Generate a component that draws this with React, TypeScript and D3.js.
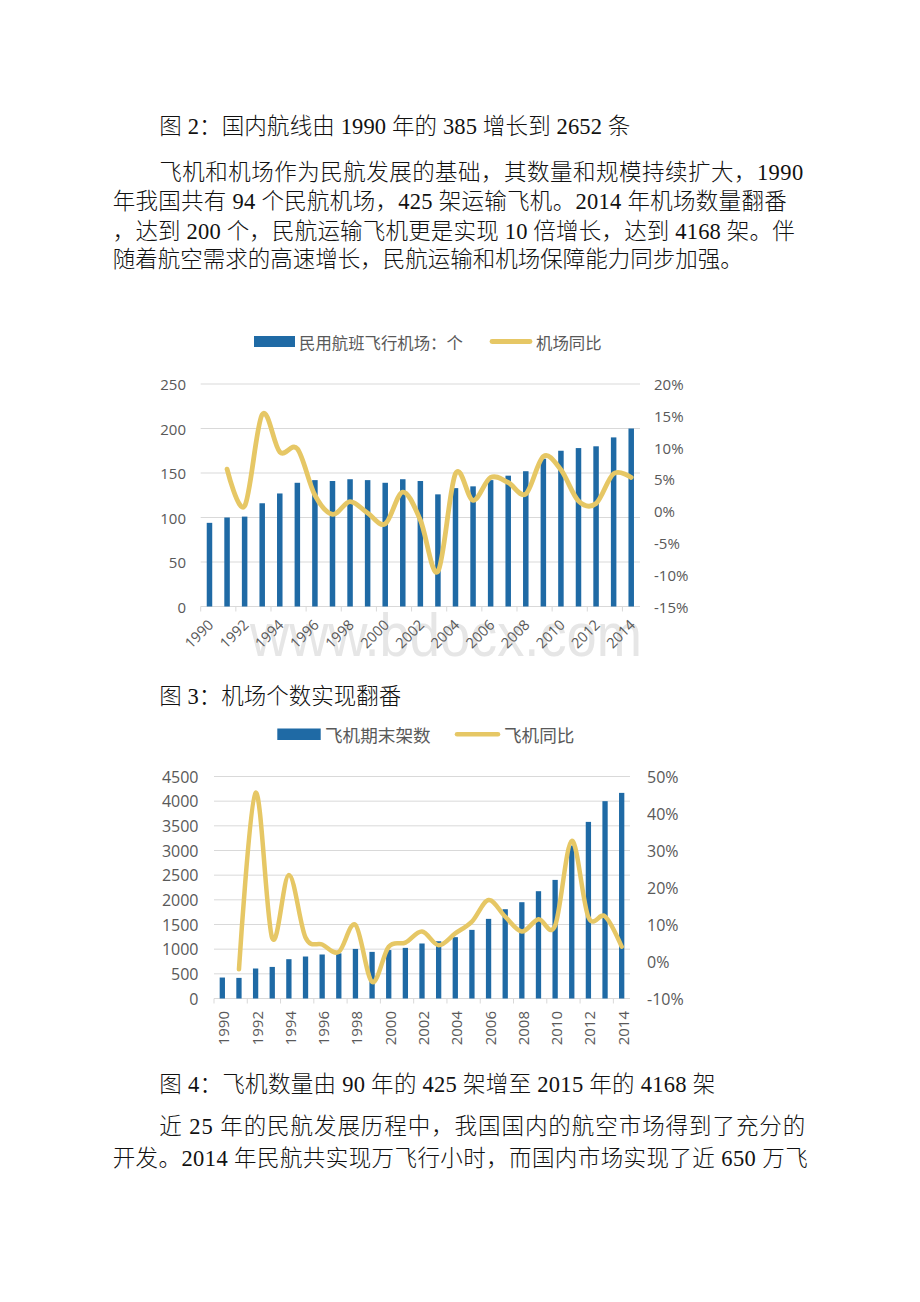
import React from 'react';
import * as d3 from 'd3';

// ---------- data ----------
const years = ['1990','1991','1992','1993','1994','1995','1996','1997','1998','1999','2000','2001','2002','2003','2004','2005','2006','2007','2008','2009','2010','2011','2012','2013','2014'];
const yearLabels = ['1990','1992','1994','1996','1998','2000','2002','2004','2006','2008','2010','2012','2014'];

// 民用航班飞行机场：个
const airportCounts = [94,100,101,116,127,139,142,141,143,142,139,143,141,126,133,135,142,147,152,166,175,178,180,190,200];
// 机场同比 (%)
const airportYoY: (number|null)[] = [null,6.6,0.8,15.2,9.3,9.8,2.5,-0.5,1.5,-0.3,-2.0,3.0,-1.4,-9.5,5.9,1.7,5.3,4.5,2.7,8.6,6.5,1.6,1.2,5.9,5.3];
const airportLeftTicks = [0,50,100,150,200,250];
const airportRightTicks = [-15,-10,-5,0,5,10,15,20];

// 飞机期末架数
const planeCounts = [425,418,608,640,797,851,892,915,1005,945,982,1026,1115,1161,1243,1391,1614,1810,1952,2175,2404,3100,3580,4000,4168];
// 飞机同比 (%)
const planeYoY: (number|null)[] = [null,-2.1,45.6,6.3,23.4,6.5,4.6,2.6,9.9,-5.5,4.0,5.1,8.1,4.4,7.6,10.8,16.6,12.1,8.1,11.4,9.7,32.6,12.0,12.2,4.0];
const planeLeftTicks = [0,500,1000,1500,2000,2500,3000,3500,4000,4500];
const planeRightTicks = [-10,0,10,20,30,40,50];

// ---------- styles ----------
const BLUE = '#1f6aa5';
const GOLD = '#e6c765';
const GRID = '#d9d9d9';
const LABEL = '#595959';
const AXIS_FONT = "'Open Sans', 'Noto Sans CJK SC', sans-serif";
const CJK_FONT = "'Noto Sans CJK SC', sans-serif";
const BODY_FONT = "'Liberation Serif', 'Noto Sans CJK SC', serif";

type ChartProps = {
  xL: number; xR: number; yT: number; yB: number;
  bars: number[]; line: (number|null)[];
  leftTicks: number[]; rightTicks: number[];
  barW: number; lineW: number; font: number;
  leftLabelX: number; rightLabelX: number;
  rotate: 'diag' | 'vert'; labelY: number;
  legend: { rectX: number; rectY: number; rectW: number; rectH: number; text1X: number; lineX0: number; lineX1: number; text2X: number; cy: number; size: number; t1: string; t2: string };
  watermark?: boolean;
};

function ComboChart(p: ChartProps) {
  const x = d3.scaleBand<string>().domain(years).range([p.xL, p.xR]).padding(0);
  const step = x.step();
  const yL = d3.scaleLinear().domain([p.leftTicks[0], p.leftTicks[p.leftTicks.length - 1]]).range([p.yB, p.yT]);
  const yR = d3.scaleLinear().domain([p.rightTicks[0], p.rightTicks[p.rightTicks.length - 1]]).range([p.yB, p.yT]);
  const cx = (y: string) => (x(y) as number) + step / 2;

  const pts = years.map((yr, i) => ({ yr, v: p.line[i] }));
  const lineGen = d3.line<{ yr: string; v: number | null }>()
    .defined(d => d.v !== null)
    .x(d => cx(d.yr))
    .y(d => yR(d.v as number))
    .curve(d3.curveCardinal.tension(0));

  const tickIdx = years.map((_, i) => i).filter(i => i % 2 === 0);
  const lg = p.legend;

  return (
    <g>
      {/* legend */}
      <rect x={lg.rectX} y={lg.rectY} width={lg.rectW} height={lg.rectH} fill={BLUE} />
      <text x={lg.text1X} y={lg.cy} dominantBaseline="central" fontFamily={CJK_FONT} fontSize={lg.size} fill={LABEL}>{lg.t1}</text>
      <line x1={lg.lineX0} x2={lg.lineX1} y1={lg.cy} y2={lg.cy} stroke={GOLD} strokeWidth={p.lineW} strokeLinecap="round" />
      <text x={lg.text2X} y={lg.cy} dominantBaseline="central" fontFamily={CJK_FONT} fontSize={lg.size} fill={LABEL}>{lg.t2}</text>

      {/* grid */}
      {p.leftTicks.map(t => (
        <line key={'g' + t} x1={p.xL} x2={p.xR} y1={yL(t)} y2={yL(t)} stroke={GRID} strokeWidth={1} />
      ))}
      {/* x axis ticks */}
      {tickIdx.map(i => (
        <line key={'t' + i} x1={p.xL + i * step} x2={p.xL + i * step} y1={p.yB} y2={p.yB + 5} stroke={GRID} strokeWidth={1} />
      ))}

      {p.watermark && (
        <text transform="translate(250,656) scale(0.875,1)" fontFamily="'Liberation Sans', sans-serif" fontSize={62} fill="#e6e6e6">www.bdocx.com</text>
      )}

      {/* left labels */}
      {p.leftTicks.map(t => (
        <text key={'l' + t} x={p.leftLabelX} y={yL(t)} textAnchor="end" dominantBaseline="central" fontFamily={AXIS_FONT} fontSize={p.font} fill={LABEL}>{t}</text>
      ))}
      {/* right labels */}
      {p.rightTicks.map(t => (
        <text key={'r' + t} x={p.rightLabelX} y={yR(t)} dominantBaseline="central" fontFamily={AXIS_FONT} fontSize={p.font} fill={LABEL}>{t + '%'}</text>
      ))}
      {/* x labels */}
      {yearLabels.map(yl => (
        p.rotate === 'diag' ? (
          <text key={'x' + yl} transform={`translate(${cx(yl) + 1},${p.labelY}) rotate(-45)`} textAnchor="end" dominantBaseline="central" fontFamily={AXIS_FONT} fontSize={p.font - 0.5} fill={LABEL}>{yl}</text>
        ) : (
          <text key={'x' + yl} transform={`translate(${cx(yl) + 1},${p.labelY}) rotate(-90)`} textAnchor="end" dominantBaseline="central" fontFamily={AXIS_FONT} fontSize={p.font - 1} fill={LABEL}>{yl}</text>
        )
      ))}

      {/* bars */}
      {years.map((yr, i) => (
        <rect key={'b' + yr} x={cx(yr) - p.barW / 2} y={yL(p.bars[i])} width={p.barW} height={p.yB - yL(p.bars[i])} fill={BLUE} />
      ))}
      {/* line */}
      <path d={lineGen(pts) || ''} fill="none" stroke={GOLD} strokeWidth={p.lineW} strokeLinejoin="round" strokeLinecap="round" />
    </g>
  );
}

const bodyLines: { t: string; x: number; y: number; len?: number }[] = [
  { t: '图 2：国内航线由 1990 年的 385 增长到 2652 条', x: 159.3, y: 133.5, len: 471 },
  { t: '飞机和机场作为民航发展的基础，其数量和规模持续扩大，1990', x: 159.3, y: 180, len: 644 },
  { t: '年我国共有 94 个民航机场，425 架运输飞机。2014 年机场数量翻番', x: 112.7, y: 208.5, len: 674 },
  { t: '，达到 200 个，民航运输飞机更是实现 10 倍增长，达到 4168 架。伴', x: 112.7, y: 238.5, len: 682 },
  { t: '随着航空需求的高速增长，民航运输和机场保障能力同步加强。', x: 112.7, y: 267 },
  { t: '图 3：机场个数实现翻番', x: 159.3, y: 703.5 },
  { t: '图 4：飞机数量由 90 年的 425 架增至 2015 年的 4168 架', x: 159.3, y: 1091.5, len: 556 },
  { t: '近 25 年的民航发展历程中，我国国内的航空市场得到了充分的', x: 159.3, y: 1133.5, len: 646 },
  { t: '开发。2014 年民航共实现万飞行小时，而国内市场实现了近 650 万飞', x: 112.7, y: 1165.5, len: 695 },
];

export default function App() {
  return (
    <svg width={920} height={1302} viewBox="0 0 920 1302" style={{ position: 'absolute', left: 0, top: 0, background: '#fff' }}>
      <rect x={0} y={0} width={920} height={1302} fill="#fff" />
      {bodyLines.map((l, i) => (
        <text key={i} x={l.x} y={l.y} fontFamily={BODY_FONT} fontSize={22.5} fontWeight={300} fill="#111"
          {...(l.len ? { textLength: l.len, lengthAdjust: 'spacing' } : {})}>{l.t}</text>
      ))}
      <ComboChart
        xL={200.7} xR={640} yT={384} yB={606.5}
        bars={airportCounts} line={airportYoY}
        leftTicks={airportLeftTicks} rightTicks={airportRightTicks}
        barW={5.5} lineW={4.8} font={15}
        leftLabelX={186} rightLabelX={654}
        rotate="diag" labelY={622}
        legend={{ rectX: 254, rectY: 336, rectW: 41, rectH: 11, text1X: 299, lineX0: 492, lineX1: 530, text2X: 536, cy: 341.5, size: 16.4, t1: '民用航班飞行机场：个', t2: '机场同比' }}
        watermark
      />
      <ComboChart
        xL={214} xR={630} yT={776.5} yB={998.5}
        bars={planeCounts} line={planeYoY}
        leftTicks={planeLeftTicks} rightTicks={planeRightTicks}
        barW={5.3} lineW={4.5} font={16}
        leftLabelX={198.5} rightLabelX={647}
        rotate="vert" labelY={1011}
        legend={{ rectX: 277.3, rectY: 728.5, rectW: 43.4, rectH: 11.5, text1X: 325, lineX0: 457, lineX1: 498, text2X: 504, cy: 734.3, size: 17.6, t1: '飞机期末架数', t2: '飞机同比' }}
      />
    </svg>
  );
}
